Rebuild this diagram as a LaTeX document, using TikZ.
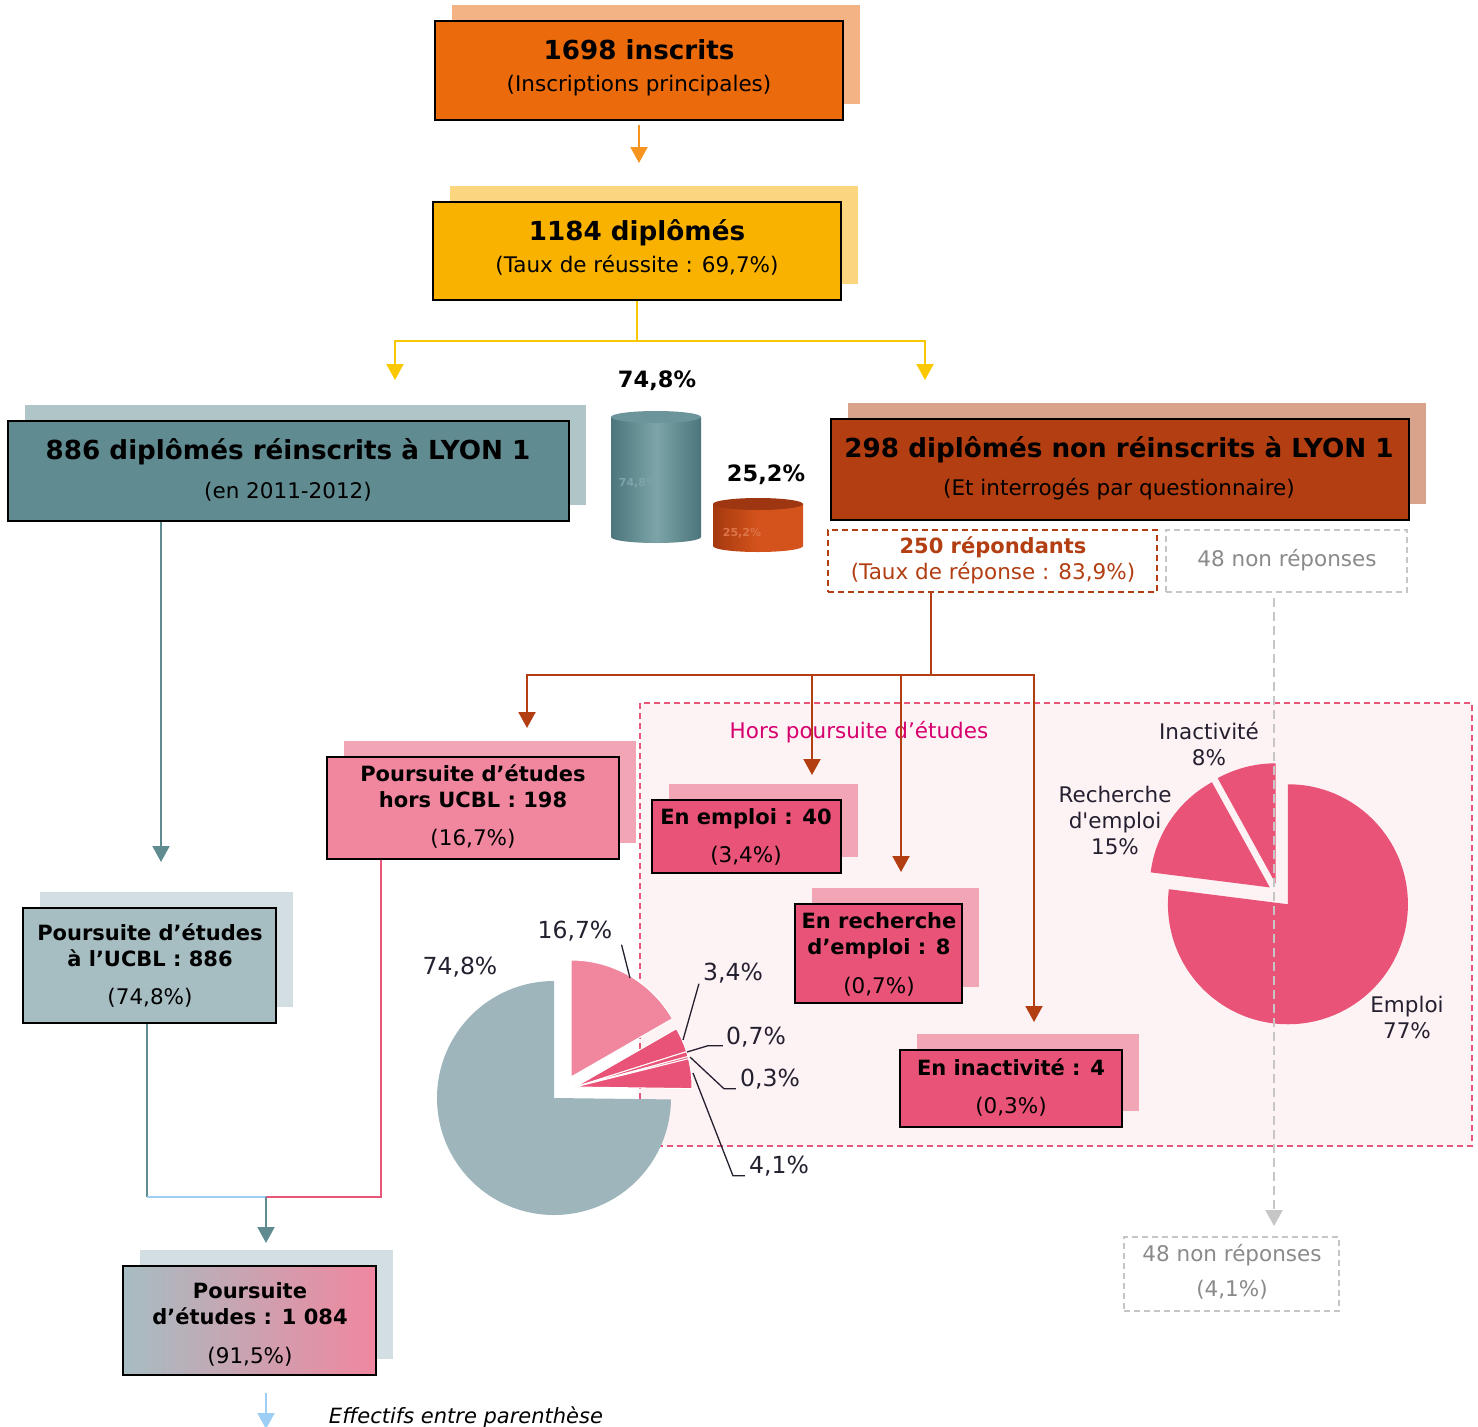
\documentclass[tikz,border=0pt]{standalone}
\usepackage{fontspec}
\setmainfont{DejaVu Sans}
\usetikzlibrary{arrows.meta,shadows}

\definecolor{orangeBox}{HTML}{EA6A0C}
\definecolor{orangeShadow}{HTML}{F4B385}
\definecolor{amberBox}{HTML}{F9B200}
\definecolor{amberShadow}{HTML}{FCD67F}
\definecolor{tealBox}{HTML}{5F8B91}
\definecolor{tealShadow}{HTML}{B0C5C8}
\definecolor{brownBox}{HTML}{B23E12}
\definecolor{brownShadow}{HTML}{D9A28A}
\definecolor{roseBox}{HTML}{F0879F}
\definecolor{roseShadow}{HTML}{F2A5B5}
\definecolor{redBox}{HTML}{E85377}
\definecolor{greyBox}{HTML}{A6BDC2}
\definecolor{greyShadow}{HTML}{D2DEE2}
\definecolor{pieGrey}{HTML}{9DB5BB}
\definecolor{pieInk}{HTML}{242030}
\definecolor{horsFill}{HTML}{FDF2F4}
\definecolor{horsLine}{HTML}{E8577A}
\definecolor{horsText}{HTML}{D6006E}
\definecolor{arrowOrange}{HTML}{F7941D}
\definecolor{arrowYellow}{HTML}{FBC800}
\definecolor{dashGrey}{HTML}{C6C6C6}
\definecolor{textGrey}{HTML}{8A8A8A}
\definecolor{lineBlue}{HTML}{9DCFF5}
\definecolor{cylTealDark}{HTML}{4C767C}
\definecolor{cylTealLight}{HTML}{7CA4A9}
\definecolor{cylTealTop}{HTML}{6C959B}
\definecolor{cylOrangeDark}{HTML}{A5390F}
\definecolor{cylOrangeLight}{HTML}{D4531C}
\definecolor{cylOrangeTop}{HTML}{9E3711}

\begin{document}
\begin{tikzpicture}
[x=1pt,y=-1pt,
  boxDecorate/.style 2 args={draw=black,line width=2pt,fill=#1,
    general shadow={fill=#2,shadow xshift=17pt,shadow yshift=16pt}},
  dashDecorate/.style={draw=#1,line width=1.8pt,dash pattern=on 6pt off 4pt},
  textDecorate/.style={inner sep=0pt,text height=15.7pt,text depth=0pt,
    font=\fontsize{21.5}{26}\selectfont},
  titleDecorate/.style={inner sep=0pt,text height=19pt,text depth=0pt,
    font=\fontsize{26.2}{30}\selectfont\bfseries},
  boldDecorate/.style={inner sep=0pt,text height=15.3pt,text depth=0pt,
    font=\fontsize{21}{25}\selectfont\bfseries},
  pieDecorate/.style={inner sep=0pt,text height=17pt,text depth=0pt,
    font=\fontsize{23.5}{28}\selectfont,text=pieInk},
  slimDecorate/.style={inner sep=0pt,text height=15.7pt,text depth=0pt,
    font=\fontsize{21.5}{26}\selectfont,text=pieInk},
  arrowDecorate/.style={line width=2pt,draw=#1,-{Triangle[width=17pt,length=16pt]}},
  lineDecorate/.style={line width=2pt,draw=#1},
  leaderDecorate/.style={line width=1.3pt,draw=pieInk}]
\useasboundingbox (0,0) rectangle (1478,1427);
\fill[white] (0,0) rectangle (1478,1427);

%% zone hors poursuite d'etudes
\draw[dashDecorate=horsLine,fill=horsFill] (640,703) rectangle (1472,1146);
\node (horsLabel) at (859,731) [textDecorate,text=horsText] {Hors poursuite d’études};

%% camembert poursuite
\begin{scope}[shift={(554,1098)},yscale=-1]
  \fill[pieGrey] (0,0) -- (90:117) arc[start angle=90,end angle=359.3,radius=117] -- cycle;
  \filldraw[fill=roseBox,draw=white,line width=1pt] (17,21) -- ++(90:117)
    arc[start angle=90,end angle=29.9,radius=117] -- cycle;
  \foreach \a/\b in {29.9/17.6, 17.6/15.1, 15.1/14.0, 14.0/-0.8}
  {
    \filldraw[fill=redBox,draw=white,line width=1pt] (21,11) -- ++(\a:117)
      arc[start angle=\a,end angle=\b,radius=117] -- cycle;
  }
\end{scope}

%% camembert hors poursuite
\begin{scope}[shift={(1278,893)},yscale=-1]
  \fill[redBox] (-48.6:15) -- ++(90:120) arc[start angle=90,end angle=-187.2,radius=120] -- cycle;
  \fill[redBox] (145.8:10) -- ++(172.8:120) arc[start angle=172.8,end angle=118.8,radius=120] -- cycle;
  \fill[redBox] (104.4:10) -- ++(118.8:120) arc[start angle=118.8,end angle=90,radius=120] -- cycle;
\end{scope}

%% pie labels
\foreach \labelname/\x/\y/\content in {
  {pieHors/575/930/16,7\%},
  {pieUcbl/460/966/74,8\%},
  {pieEmploi/733/972/3,4\%},
  {pieRecherche/756/1036/0,7\%},
  {pieInactivite/770/1078/0,3\%},
  {pieNonrep/779/1165/4,1\%}}
{
  \node (\labelname) at (\x,\y) [pieDecorate] {\content};
}
\foreach \labelname/\x/\y/\content in {
  {rpInactivite/1209/732/Inactivité},
  {rpInactivitePct/1209/758/8\%},
  {rpRecherche/1115/795/Recherche},
  {rpRechercheB/1115/821/d\textquotesingle emploi},
  {rpRecherchePct/1115/847/15\%},
  {rpEmploi/1407/1005/Emploi},
  {rpEmploiPct/1407/1031/77\%}}
{
  \node (\labelname) at (\x,\y) [slimDecorate] {\content};
}

%% leader lines
\coordinate (leadHors) at (630,978);
\coordinate (leadEmploi) at (683,1040);
\coordinate (leadRecherche) at (687,1052);
\coordinate (leadInactivite) at (690,1057);
\coordinate (leadNonrep) at (693,1073);
\draw[leaderDecorate] ([xshift=9pt,yshift=-6pt]pieHors.south east) -- (leadHors);
\draw[leaderDecorate] ([xshift=-4pt,yshift=-3pt]pieEmploi.south west) -- (leadEmploi);
\draw[leaderDecorate] ([xshift=-3pt,yshift=-1pt]pieRecherche.south west) -- ++(-15,0) -- (leadRecherche);
\draw[leaderDecorate] ([xshift=-4pt,yshift=-2pt]pieInactivite.south west) -- ++(-12,0) -- (leadInactivite);
\draw[leaderDecorate] ([xshift=-4pt,yshift=-2pt]pieNonrep.south west) -- ++(-12,0) -- (leadNonrep);

%% boxes
\foreach \boxname/\x/\y/\w/\h/\fillcol/\shadowcol in {
  inscrits/639/70.5/408/99/orangeBox/orangeShadow,
  diplomes/637/251/408/98/amberBox/amberShadow,
  reinscrits/288.5/471/561/100/tealBox/tealShadow,
  nonreinscrits/1120/469.5/578/101/brownBox/brownShadow,
  horsUCBL/473/808/292/102/roseBox/roseShadow,
  emploi/746.5/836.5/189/73/redBox/roseShadow,
  recherche/878.5/953.5/167/99/redBox/roseShadow,
  inactivite/1011/1088.5/222/77/redBox/roseShadow,
  ucbl/149.5/965.5/253/115/greyBox/greyShadow}
{
  \node (\boxname) at (\x,\y) [boxDecorate={\fillcol}{\shadowcol},
    minimum width=\w pt,minimum height=\h pt] {};
}
\node (poursuite) at (249.5,1320.5) [draw=black,line width=2pt,left color=greyBox,right color=roseBox,
  general shadow={fill=greyShadow,shadow xshift=17pt,shadow yshift=16pt},
  minimum width=253pt,minimum height=109pt] {};
\node (repondants) at (992.5,561) [dashDecorate=brownBox,minimum width=329pt,minimum height=62pt] {};
\node (nonrepHaut) at (1286.5,561) [dashDecorate=dashGrey,minimum width=241pt,minimum height=62pt] {};
\node (nonrepBas) at (1231.5,1274) [dashDecorate=dashGrey,minimum width=215pt,minimum height=74pt] {};

%% cylinders
\shade[left color=cylTealDark,right color=cylTealDark,middle color=cylTealLight]
  (611,417) -- (611,537) arc[start angle=180,end angle=0,x radius=45,y radius=6] -- (701,417) -- cycle;
\fill[cylTealTop] (656,417) ellipse [x radius=45,y radius=6];
\node (cylTealGhost) at (638,483) [inner sep=0pt,font=\fontsize{11}{13}\selectfont\bfseries,text=cylTealLight] {74,8\%};
\shade[left color=cylOrangeDark,right color=cylOrangeLight,middle color=cylOrangeLight]
  (713,504) -- (713,546) arc[start angle=180,end angle=0,x radius=45,y radius=6] -- (803,504) -- cycle;
\fill[cylOrangeTop] (758,504) ellipse [x radius=45,y radius=6];
\node (cylOrangeGhost) at (742,533) [inner sep=0pt,font=\fontsize{11}{13}\selectfont\bfseries,text=cylOrangeLight!80!white] {25,2\%};
\node (cylTealPct) at (657,380) [boldDecorate,font=\fontsize{22.5}{26}\selectfont\bfseries] {74,8\%};
\node (cylOrangePct) at (766,474) [boldDecorate,font=\fontsize{22.5}{26}\selectfont\bfseries] {25,2\%};

%% texts
\foreach \textname/\x/\y/\content in {
  {inscritsTitle/639/50/1698 inscrits},
  {diplomesTitle/637/231/1184 diplômés},
  {reinscritsTitle/288/450/886 diplômés réinscrits à LYON 1},
  {nonreinscritsTitle/1119/448/298 diplômés non réinscrits à LYON 1}}
{
  \node (\textname) at (\x,\y) [titleDecorate] {\content};
}
\foreach \textname/\x/\y/\content in {
  {inscritsSub/639/84/(Inscriptions principales)},
  {diplomesSub/637/265/(Taux de réussite : 69,7\%)},
  {reinscritsSub/288/491/(en 2011-2012)},
  {nonreinscritsSub/1119/488/(Et interrogés par questionnaire)},
  {horsUCBLSub/473/838/(16,7\%)},
  {emploiSub/746/855/(3,4\%)},
  {rechercheSub/879/986/(0,7\%)},
  {inactiviteSub/1011/1106/(0,3\%)},
  {ucblSub/150/997/(74,8\%)},
  {poursuiteSub/250/1356/(91,5\%)}}
{
  \node (\textname) at (\x,\y) [textDecorate] {\content};
}
\foreach \textname/\x/\y/\content in {
  {horsUCBLTitle/473/774/Poursuite d’études},
  {horsUCBLCount/473/800/hors UCBL : 198},
  {emploiTitle/746/817/En emploi : 40},
  {rechercheTitle/879/921/En recherche},
  {rechercheCount/879/947/d’emploi : 8},
  {inactiviteTitle/1011/1068/En inactivité : 4},
  {ucblTitle/150/933/Poursuite d’études},
  {ucblCount/150/959/à l’UCBL : 886},
  {poursuiteTitle/250/1291/Poursuite},
  {poursuiteCount/250/1317/d’études : 1 084}}
{
  \node (\textname) at (\x,\y) [boldDecorate] {\content};
}
\node (repondantsTitle) at (993,546) [boldDecorate,text=brownBox] {250 répondants};
\node (repondantsSub) at (993,572) [textDecorate,text=brownBox] {(Taux de réponse : 83,9\%)};
\node (nonrepHautText) at (1287,559) [textDecorate,text=textGrey] {48 non réponses};
\node (nonrepBasText) at (1232,1254) [textDecorate,text=textGrey] {48 non réponses};
\node (nonrepBasSub) at (1232,1289) [textDecorate,text=textGrey] {(4,1\%)};
\node (legende) at (466,1416) [textDecorate,font=\fontsize{21}{25}\selectfont\itshape] {Effectifs entre parenthèse};

%% connectors
\coordinate (inscritsTip) at (639,163);
\draw[arrowDecorate=arrowOrange] ([yshift=-4pt]inscrits.south) -- (inscritsTip);

\coordinate (diplomesFork) at (637,341);
\coordinate (reinscritsTip) at (395,380);
\coordinate (nonreinscritsTip) at (925,380);
\draw[lineDecorate=arrowYellow] (diplomes.south) -- (diplomesFork);
\draw[arrowDecorate=arrowYellow] (diplomesFork) -| (reinscritsTip);
\draw[arrowDecorate=arrowYellow] (diplomesFork) -| (nonreinscritsTip);

\coordinate (ucblTip) at (161,862);
\draw[arrowDecorate=tealBox] (reinscrits.south -| ucblTip) -- (ucblTip);

\coordinate (repFork) at (931,675);
\foreach \tipname/\x/\y in {horsTip/527/728, emploiTip/812/775, rechercheTip/901/872, inactiviteTip/1034/1022}
{
  \coordinate (\tipname) at (\x,\y);
}
\draw[lineDecorate=brownBox] (repondants.south -| repFork) -- (repFork);
\draw[arrowDecorate=brownBox] (repFork) -| (horsTip);
\draw[arrowDecorate=brownBox] (repFork -| emploiTip) -- (emploiTip);
\draw[arrowDecorate=brownBox] (repFork -| rechercheTip) -- (rechercheTip);
\draw[arrowDecorate=brownBox] (repFork) -| (inactiviteTip);

\coordinate (nonrepTop) at (1274,598);
\coordinate (nonrepTip) at (1274,1226);
\draw[arrowDecorate=dashGrey,line width=2.5pt,dash pattern=on 9pt off 5pt] (nonrepTop) -- (nonrepTip);

\coordinate (mergeLeft) at (147,1197);
\coordinate (mergeRight) at (381,1197);
\coordinate (poursuiteFork) at (266,1197);
\coordinate (poursuiteTip) at (266,1243);
\draw[lineDecorate=tealBox,line width=1.5pt] (ucbl.south -| mergeLeft) -- (mergeLeft);
\draw[lineDecorate=lineBlue,line width=1.5pt] (mergeLeft) -- (poursuiteFork);
\draw[lineDecorate=horsLine,line width=1.5pt] (horsUCBL.south -| mergeRight) -- (mergeRight) -- (poursuiteFork);
\draw[arrowDecorate=tealBox] (poursuiteFork) -- (poursuiteTip);

\coordinate (suiteTop) at (266,1393);
\coordinate (suiteTip) at (266,1429);
\draw[arrowDecorate=lineBlue] (suiteTop) -- (suiteTip);
\end{tikzpicture}
\end{document}
